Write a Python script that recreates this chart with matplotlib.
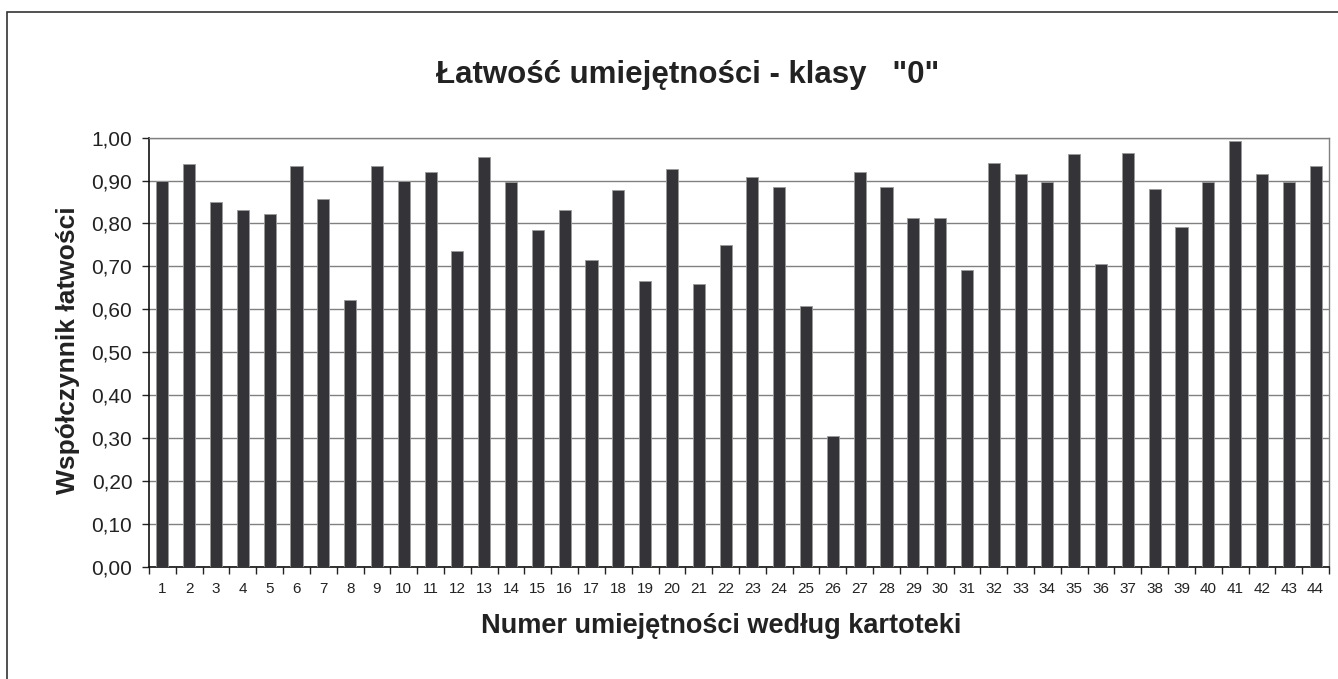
import numpy as np
import matplotlib
matplotlib.use("Agg")
import matplotlib.pyplot as plt
from matplotlib.patches import Rectangle
from matplotlib.ticker import FixedLocator, FuncFormatter

plt.rcParams['font.family'] = ['Liberation Sans', 'DejaVu Sans']

# numer umiejetnosci i wspolczynnik latwosci
skills = list(range(1, 45))
values = [0.900, 0.938, 0.849, 0.831, 0.821, 0.933, 0.858, 0.622, 0.933, 0.900,
          0.919, 0.737, 0.956, 0.896, 0.784, 0.831, 0.714, 0.877, 0.667, 0.928,
          0.658, 0.751, 0.909, 0.886, 0.607, 0.305, 0.919, 0.886, 0.812, 0.812,
          0.691, 0.942, 0.915, 0.896, 0.961, 0.705, 0.965, 0.881, 0.793, 0.896,
          0.993, 0.915, 0.896, 0.933]
yticks = [0.0, 0.1, 0.2, 0.3, 0.4, 0.5, 0.6, 0.7, 0.8, 0.9, 1.0]

W, H = 1338, 679
fig = plt.figure(figsize=(W / 100, H / 100), dpi=100)

# ramka wykresu
fig.patches.append(Rectangle((7 / W, -0.05), 1.1, 1 - 12 / H + 0.05,
                             transform=fig.transFigure, fill=False,
                             edgecolor='#333333', linewidth=1.2))

ax = fig.add_axes([149 / W, 1 - 566.7 / H, (1329 - 149) / W, (566.7 - 137.7) / H])
x = np.arange(len(skills))
ax.bar(x, values, width=0.45, color='#343338', edgecolor='#9a9a9a',
       linewidth=0.6, zorder=3)

ax.set_xlim(-0.5, len(skills) - 0.5)
ax.set_ylim(0, 1.0)
ax.set_yticks(yticks)
ax.yaxis.set_major_formatter(FuncFormatter(lambda v, p: f"{v:.2f}".replace('.', ',')))
ax.yaxis.grid(True, color='#808080', linewidth=1.0, zorder=0)

ax.set_xticks(x)
ax.set_xticklabels([str(s) for s in skills])
ax.xaxis.set_minor_locator(FixedLocator(np.arange(-0.5, len(skills), 1.0)))
ax.tick_params(axis='x', which='major', length=0, labelsize=11, pad=11, colors='#222222')
ax.tick_params(axis='x', which='minor', length=5, width=1, color='#222222')
ax.tick_params(axis='y', length=5, width=1, labelsize=15, pad=7, colors='#222222')

for s in ['left', 'bottom']:
    ax.spines[s].set_color('#111111')
    ax.spines[s].set_linewidth(1.2)
for s in ['top', 'right']:
    ax.spines[s].set_color('#808080')
    ax.spines[s].set_linewidth(1.0)

fig.text(688 / W, 1 - 75 / H, 'Łatwość umiejętności - klasy   "0"', ha='center',
         va='center', fontsize=22.5, fontweight='bold', color='#222222')
fig.text(721 / W, 1 - 626 / H, 'Numer umiejętności według kartoteki', ha='center',
         va='center', fontsize=19.5, fontweight='bold', color='#222222')
fig.text(68 / W, 1 - 350 / H, 'Współczynnik łatwości', ha='center', va='center',
         rotation=90, fontsize=19, fontweight='bold', color='#222222')

fig.savefig('out.png', dpi=100)
